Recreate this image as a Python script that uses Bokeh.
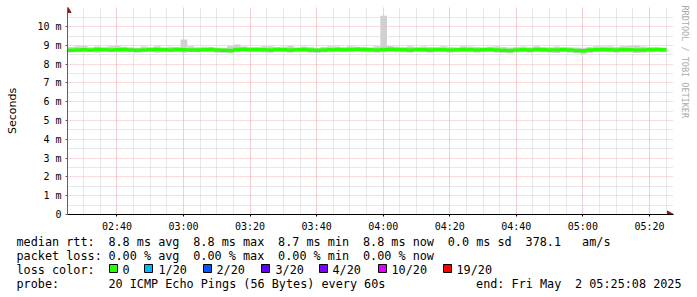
from bokeh.plotting import figure
from bokeh.layouts import column
from bokeh.models import FixedTicker, Range1d, Title
from bokeh.core.properties import value
from bokeh.embed import file_html
from bokeh.resources import INLINE

# ---------------- data ----------------
START = "02:25:08"
STEP_MIN = 2
SPAN_MIN = 180

median_ms = [8.74, 8.76, 8.77, 8.76, 8.78, 8.77, 8.75, 8.77, 8.78, 8.76,
             8.74, 8.76, 8.77, 8.78, 8.77, 8.76, 8.78, 8.77, 8.76, 8.75,
             8.77, 8.78, 8.76, 8.74, 8.73, 8.78, 8.79, 8.77, 8.78, 8.77,
             8.76, 8.78, 8.77, 8.76, 8.77, 8.78, 8.76, 8.74, 8.76, 8.77,
             8.78, 8.77, 8.78, 8.79, 8.78, 8.77, 8.76, 8.78, 8.79, 8.78,
             8.77, 8.76, 8.78, 8.77, 8.76, 8.78, 8.77, 8.76, 8.77, 8.78,
             8.77, 8.76, 8.77, 8.78, 8.76, 8.74, 8.73, 8.76, 8.77, 8.76,
             8.78, 8.77, 8.76, 8.75, 8.77, 8.76, 8.73, 8.71, 8.75, 8.77,
             8.78, 8.77, 8.76, 8.78, 8.77, 8.75, 8.76, 8.77, 8.78, 8.77]

smoke_hi_ms = [8.92, 8.95, 8.97, 8.90, 8.94, 8.91, 8.96, 8.98, 8.93, 8.90,
               8.88, 8.94, 8.92, 8.96, 8.90, 8.93, 8.91, 9.32, 8.95, 8.90,
               8.93, 8.92, 8.89, 8.88, 8.97, 9.05, 8.94, 8.92, 8.90, 8.95,
               8.96, 8.91, 8.93, 8.97, 8.90, 8.94, 8.92, 8.88, 8.92, 8.96,
               8.94, 8.92, 8.95, 8.93, 8.92, 8.90, 8.96, 10.58, 8.97, 8.93,
               8.92, 8.95, 8.90, 8.94, 8.92, 8.90, 8.95, 8.92, 8.90, 8.96,
               8.94, 8.92, 8.90, 8.93, 8.96, 8.92, 8.89, 8.92, 8.94, 8.90,
               8.95, 8.92, 8.90, 8.94, 8.92, 8.90, 8.89, 8.87, 8.92, 8.95,
               8.94, 8.96, 8.92, 8.95, 8.97, 9.00, 8.94, 8.92, 8.90, 8.89]

smoke_lo_ms = [8.62, 8.64, 8.63, 8.65, 8.61, 8.66, 8.63, 8.64, 8.62, 8.66,
               8.61, 8.63, 8.65, 8.61, 8.63, 8.64, 8.63, 8.61, 8.65, 8.63,
               8.66, 8.63, 8.61, 8.60, 8.58, 8.64, 8.66, 8.63, 8.64, 8.62,
               8.61, 8.65, 8.63, 8.61, 8.63, 8.65, 8.61, 8.59, 8.62, 8.63,
               8.65, 8.63, 8.64, 8.66, 8.64, 8.62, 8.61, 8.64, 8.66, 8.64,
               8.63, 8.61, 8.65, 8.63, 8.61, 8.64, 8.63, 8.61, 8.63, 8.65,
               8.63, 8.61, 8.63, 8.65, 8.61, 8.59, 8.58, 8.62, 8.63, 8.61,
               8.65, 8.63, 8.61, 8.60, 8.63, 8.61, 8.58, 8.56, 8.60, 8.63,
               8.65, 8.63, 8.61, 8.64, 8.63, 8.60, 8.61, 8.63, 8.65, 8.63]

x_tick_labels = ["02:40", "03:00", "03:20", "03:40", "04:00", "04:20", "04:40", "05:00", "05:20"]
x_minor_start = "02:30"
y_tick_values = [0, 1, 2, 3, 4, 5, 6, 7, 8, 9, 10]
y_tick_labels = ["0", "1 m", "2 m", "3 m", "4 m", "5 m", "6 m", "7 m", "8 m", "9 m", "10 m"]
y_title = "Seconds"

# text rows: (character column, text)
rtt_items = [(0, "median rtt:"), (13, "8.8 ms avg"), (25, "8.8 ms max"), (37, "8.7 ms min"),
             (49, "8.8 ms now"), (61, "0.0 ms sd"), (72, "378.1"), (80, "am/s")]
loss_items = [(0, "packet loss:"), (13, "0.00 % avg"), (25, "0.00 % max"),
              (37, "0.00 % min"), (49, "0.00 % now")]
probe_items = [(0, "probe:"), (13, "20 ICMP Echo Pings (56 Bytes) every 60s"),
               (65, "end: Fri May"), (79, "2 05:25:08 2025")]
loss_title = "loss color:"
loss_labels = ["0", "1/20", "2/20", "3/20", "4/20", "10/20", "19/20"]
loss_colors = ["#26ff00", "#00b8ff", "#0059ff", "#5e00ff", "#7e00ff", "#dd00ff", "#ff0000"]
side_text = "RRDTOOL / TOBI OETIKER"

# ---------------- layout constants (pixels) ----------------
W, H = 697, 297
FL, FR, FT, FB = 67, 674, 7, 215     # frame incl. room for axis arrows
PX_PER_MIN = 600 / SPAN_MIN           # 600 px for the 3 h window
PX_PER_MS = 202 / 10.7
MAIN_H = 234
CHAR_W = 7.07
TXT_X = 16


def to_min(hhmm):
    parts = [int(v) for v in hhmm.split(":")]
    while len(parts) < 3:
        parts.append(0)
    return parts[0] * 60 + parts[1] + parts[2] / 60.0


t0 = to_min(START)
x_end = (FR - FL) / PX_PER_MIN
y_end = (FB - FT) / PX_PER_MS

p = figure(width=W, height=MAIN_H, x_range=Range1d(0, x_end), y_range=Range1d(0, y_end),
           min_border_left=FL, min_border_right=W - FR, min_border_top=FT,
           min_border_bottom=MAIN_H - FB,
           output_backend="svg", toolbar_location=None,
           background_fill_color="white", border_fill_color="white", outline_line_color=None)
p.frame_align = False

# ticks & grids
x_major = [to_min(l) - t0 for l in x_tick_labels]
x_minor = [to_min(x_minor_start) - t0 + 5 * k for k in range(40)]
x_minor = [m for m in x_minor if 0 < m <= SPAN_MIN + 0.5]
p.xaxis.ticker = FixedTicker(ticks=x_major, minor_ticks=x_minor)
p.xaxis.major_label_overrides = {t: l for t, l in zip(x_major, x_tick_labels)}
p.yaxis.ticker = FixedTicker(ticks=y_tick_values, minor_ticks=[v + 0.5 for v in y_tick_values])
p.yaxis.major_label_overrides = {v: l for v, l in zip(y_tick_values, y_tick_labels)}

for ax in (p.xaxis, p.yaxis):
    ax.major_label_text_font = "DejaVu Sans Mono"
    ax.major_label_text_font_size = "10px"
    ax.major_label_text_color = "#000000"
    ax.major_tick_in = 0
    ax.major_tick_out = 2
    ax.minor_tick_in = 0
    ax.minor_tick_out = 0
    ax.major_label_standoff = 4
p.xaxis.axis_line_color = "#000000"
p.xaxis.major_tick_line_color = "#000000"
p.yaxis.axis_line_color = "#606060"
p.yaxis.major_tick_line_color = "#606060"
p.yaxis.axis_label = y_title
p.yaxis.axis_label_text_font = "DejaVu Sans"
p.yaxis.axis_label_text_font_size = "11px"
p.yaxis.axis_label_text_font_style = "normal"
p.yaxis.axis_label_text_color = "#000000"
p.yaxis.axis_label_standoff = 15

for g in (p.xgrid, p.ygrid):
    g.grid_line_color = "#f4b4b4"
    g.grid_line_dash = "1 1"
    g.grid_line_width = 1
    g.minor_grid_line_color = "#d0d0d0"
    g.minor_grid_line_dash = "1 1"
    g.minor_grid_line_width = 1

# smoke
xs = [i * STEP_MIN for i in range(len(median_ms))]
p.quad(left=xs, right=[x + STEP_MIN for x in xs], bottom=smoke_lo_ms, top=smoke_hi_ms,
       fill_color="#d0d0d0", line_color=None)

# median line
p.step(x=xs + [SPAN_MIN], y=median_ms + [median_ms[-1]], mode="after",
       line_color=loss_colors[0], line_width=3.5)

# axis arrow heads
p.scatter(x=[0], y=[(FB - 10) / PX_PER_MS], marker="triangle", size=7,
          fill_color="#8b1a1a", line_color="#8b1a1a")
p.scatter(x=[(670 - FL) / PX_PER_MIN], y=[0], marker="triangle", angle=-1.5708, size=7,
          fill_color="#8b1a1a", line_color="#8b1a1a")

# side credit
p.add_layout(Title(text=side_text, align="left", text_font="DejaVu Sans Mono",
                   text_font_size="8.5px", text_color="#aaaaaa", text_font_style="normal",
                   standoff=12, offset=-2), "right")

# ---------------- legend / stats block ----------------
t = figure(width=W, height=H - MAIN_H, x_range=Range1d(0, W), y_range=Range1d(H, MAIN_H),
           min_border=0, min_border_left=0, min_border_right=0, min_border_top=0,
           min_border_bottom=0, x_axis_type=None, y_axis_type=None,
           output_backend="svg", toolbar_location=None,
           background_fill_color="white", border_fill_color="white", outline_line_color=None)
t.frame_align = False
t.xgrid.visible = False
t.ygrid.visible = False

rows_y = [241, 255, 269, 283]
box_y = 268
box_x = [109, 144, 203, 261, 319, 378, 443]
lab_x = [122, 158, 216, 275, 332, 391, 456]

tx, ty, tt = [], [], []
for items, ry in ((rtt_items, rows_y[0]), (loss_items, rows_y[1]), (probe_items, rows_y[3])):
    for col, txt in items:
        tx.append(TXT_X + col * CHAR_W)
        ty.append(ry)
        tt.append(txt)
tx += [TXT_X] + lab_x
ty += [rows_y[2]] * (1 + len(lab_x))
tt += [loss_title] + loss_labels
t.text(x=tx, y=ty, text=tt, text_font=value("DejaVu Sans Mono"), text_font_size="11.8px",
       text_color="#000000", text_align="left", text_baseline="middle")

t.quad(left=box_x, right=[b + 8 for b in box_x], top=[box_y - 4] * len(box_x),
       bottom=[box_y + 4] * len(box_x), fill_color=loss_colors, line_color="#000000",
       line_width=1)

layout = column(p, t, spacing=0)
open("out.html", "w").write(file_html(layout, INLINE))
